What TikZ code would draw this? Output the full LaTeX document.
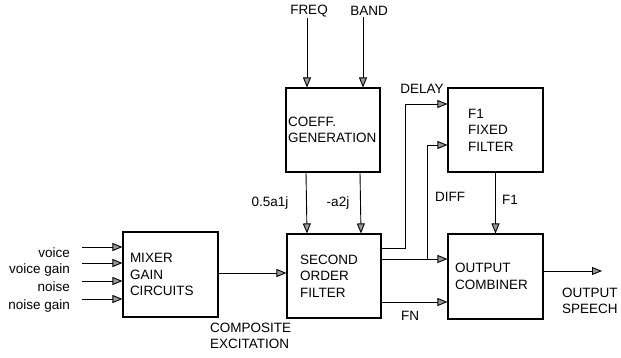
\documentclass[tikz,border=0pt]{standalone}
\usepackage{fontspec}
\setmainfont{Liberation Sans}
\usetikzlibrary{arrows.meta,positioning,calc}

\begin{document}
\begin{tikzpicture}[x=1pt, y=1pt, font=\fontsize{13.5}{16.5}\selectfont,
  blk/.style={draw, line width=1.1pt, align=left, minimum height=84pt},
  lbl/.style={inner sep=1pt},
  sig/.style={line width=0.9pt, -{Triangle[length=10pt,width=8pt,fill=gray!80]}}]
  \useasboundingbox (0,0) rectangle (621,357);
  % Blocks
  \node[blk, minimum height=85pt, inner xsep=7pt, text width=81pt] (mixer) at (170.5,82.5) {MIXER\\GAIN\\CIRCUITS};
  \node[blk, inner xsep=2pt, text width=90pt] (coeff) at (333,227) {COEFF.\\GENERATION};
  \node[blk, inner xsep=13pt, text width=68pt] (sof) at (334,81) {SECOND\\ORDER\\FILTER};
  \node[blk, inner xsep=20pt, text width=55pt] (fixed) at (495.5,227) {F1\\FIXED\\FILTER};
  \node[blk, minimum height=85pt, inner xsep=7pt, text width=81pt] (comb) at (495.5,80.5) {OUTPUT\\COMBINER};
  % Mixer inputs
  \foreach \n/\t/\b in {lv/voice/100, lvg/voice gain/84, ln/noise/66, lng/noise gain/48} {
    \node[lbl, anchor=base east] (\n) at (71,\b) {\t};
    \coordinate (\n-in) at ($(\n.base east)+(11,10)$);
    \draw[sig] (\n-in) -- (\n-in -| mixer.west);
  }
  % Coefficient inputs
  \node[lbl] (freq) at (309,346) {FREQ};
  \node[lbl] (band) at (369,346) {BAND};
  \draw[sig] ([xshift=-26pt]coeff.north |- freq.south) -- ([xshift=-26pt]coeff.north);
  \draw[sig] ([xshift=30pt]coeff.north |- band.south) -- ([xshift=30pt]coeff.north);
  % Coefficients
  \draw[sig] ([xshift=-27pt]coeff.south) -- ([xshift=-27pt]sof.north);
  \draw[sig] ([xshift=27pt]coeff.south) -- ([xshift=27pt]sof.north);
  \node[lbl] (aone) at (270,154) {0.5a1j};
  \node[lbl] (atwo) at (338,154) {-a2j};
  % Excitation
  \draw[sig] ([yshift=1.5pt]mixer.east) -- ([yshift=1.5pt]mixer.east -| sof.west);
  \node[lbl, anchor=west, align=left] (comp) at (209,21) {COMPOSITE\\EXCITATION};
  % Filter outputs
  \draw[sig] ([yshift=28pt]sof.east) -- ++(24,0) |- ([yshift=26pt]fixed.west);
  \draw[sig] ([yshift=17pt]sof.east) -- ([yshift=17pt]sof.east -| comb.west);
  \coordinate (dsplit) at ($([yshift=17pt]sof.east)+(46,0)$);
  \draw[sig] (dsplit) |- ([yshift=-15pt]fixed.west);
  \draw[sig] ([yshift=-26pt]sof.east) -- ([yshift=-26pt]sof.east -| comb.west);
  \draw[sig] (fixed.south) -- (comb.north);
  \node[lbl] (delay) at (422,268) {DELAY};
  \node[lbl] (diff) at (450,160) {DIFF};
  \node[lbl] (fone) at (510,157) {F1};
  \node[lbl] (fn) at (410,41) {FN};
  % Output
  \coordinate (spk) at (602,86);
  \draw[sig] ([yshift=5.5pt]comb.east) -- (spk);
  \node[lbl, anchor=west, align=left] (out) at (561,56) {OUTPUT\\SPEECH};
\end{tikzpicture}
\end{document}
